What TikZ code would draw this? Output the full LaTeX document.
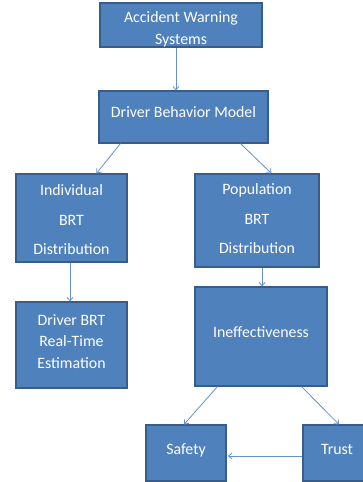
\documentclass[tikz,border=0pt]{standalone}
\usepackage{fontspec}
\setmainfont{Carlito}
\usepackage{xcolor}
\usetikzlibrary{arrows.meta}
\definecolor{boxfill}{RGB}{79,129,189}
\definecolor{boxline}{RGB}{56,93,138}
\definecolor{arrowline}{RGB}{100,145,205}
\tikzset{
	box/.style={draw=boxline, fill=boxfill, line width=1.1bp, text=white, align=center, inner sep=0pt,
		font=\fontsize{15.9}{22}\selectfont},
	widebox/.style={box, font=\fontsize{15.9}{29.5}\selectfont},
	arr/.style={draw=arrowline, line width=0.8bp, -{Straight Barb[length=3.5bp,width=6bp]}}
}
\begin{document}
\begin{tikzpicture}[x=1bp, y=-1bp]
				\useasboundingbox (0,0) rectangle (362,482);
				% draw boxes
				\node[box, minimum width=162bp, minimum height=44bp, text height=39bp, text depth=0bp] (aws) at (181,25) {Accident Warning\\Systems};
				\node[box, minimum width=169bp, minimum height=52bp, text depth=10bp] (dbm) at (183.5,117) {Driver Behavior Model};
				\node[widebox, minimum width=111bp, minimum height=88bp, text height=73bp, text depth=0bp] (ind) at (71.5,218) {Individual\\BRT\\Distribution};
				\node[widebox, minimum width=124bp, minimum height=93bp, text depth=3.5bp] (pop) at (257,220.5) {Population\\BRT\\Distribution};
				\node[box, minimum width=111bp, minimum height=86bp, text depth=7bp] (est) at (71.5,345) {Driver BRT\\Real-Time\\Estimation};
				\node[box, minimum width=132bp, minimum height=99bp, text depth=9bp] (ineff) at (261,336.5) {Ineffectiveness};
				\node[box, minimum width=80bp, minimum height=56bp, text depth=8bp] (safety) at (186,453) {Safety};
				\node[box, minimum width=68bp, minimum height=56bp, text depth=8bp] (trust) at (337,453) {Trust};
				% add arrows
				\draw[arr] ([xshift=-5bp]aws.south) -- ([xshift=-5bp]aws.south |- dbm.north);
				\draw[arr] ([xshift=22bp]dbm.south west) -- ([xshift=81bp]ind.north west);
				\draw[arr] ([xshift=142bp]dbm.south west) -- ([xshift=77bp]pop.north west);
				\draw[arr] ([xshift=-1.5bp]ind.south) -- ([xshift=-1.5bp]est.north);
				\draw[arr] ([xshift=5bp]pop.south) -- ([xshift=5bp]pop.south |- ineff.north);
				\draw[arr] ([xshift=23bp]ineff.south west) -- ([xshift=-2bp]safety.north);
				\draw[arr] ([xshift=107bp]ineff.south west) -- ([xshift=2bp]trust.north);
				\draw[arr] ([yshift=-3bp]trust.west) -- ([yshift=-3bp,xshift=1.5bp]safety.east);
			\end{tikzpicture}
\end{document}
